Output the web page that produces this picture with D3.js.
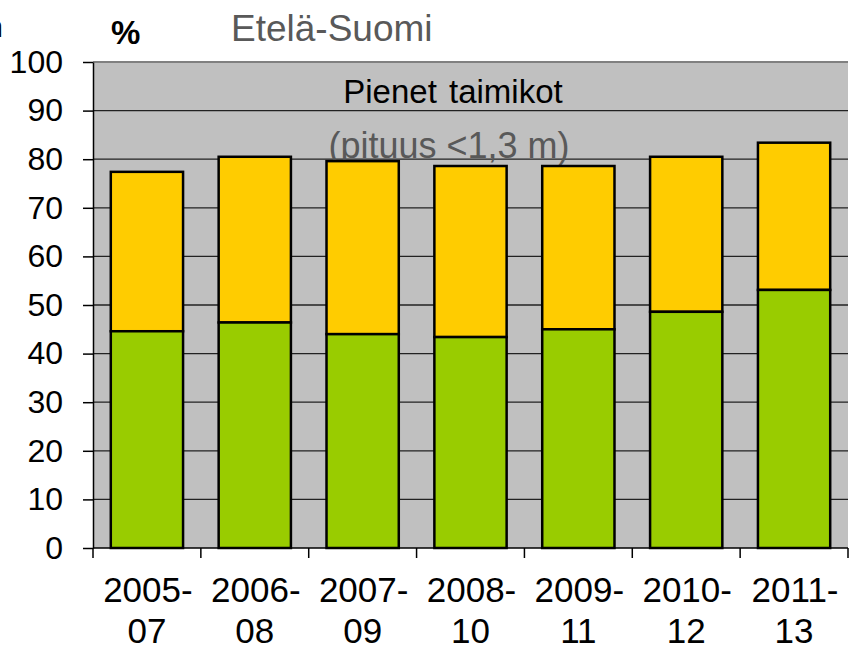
<!DOCTYPE html>
<html>
<head>
<meta charset="utf-8">
<script src="https://cdn.jsdelivr.net/npm/d3@7"></script>
<style>
  body { margin: 0; background: #fff; }
  svg { display: block; font-family: "Liberation Sans", Arial, sans-serif; }
</style>
</head>
<body>
<div id="chart"></div>
<script>
// chart data
var periods = ["2005-07", "2006-08", "2007-09", "2008-10", "2009-11", "2010-12", "2011-13"];
var greenValues = [44.6, 46.4, 44.0, 43.4, 45.0, 48.6, 53.1];
var totalValues = [77.4, 80.5, 79.6, 78.6, 78.6, 80.5, 83.4];
var yTicks = [0, 10, 20, 30, 40, 50, 60, 70, 80, 90, 100];

// chart parameters
var svgWidth = 857;
var svgHeight = 646;
var margin = { top: 62, right: 9, bottom: 98, left: 93 };
var width = svgWidth - margin.left - margin.right;
var height = svgHeight - margin.top - margin.bottom;

var svg = d3.select("#chart")
    .append("svg")
    .attr("width", svgWidth)
    .attr("height", svgHeight);

// titles above the plot
svg.append("text")
    .attr("x", 3).attr("y", 37)
    .attr("text-anchor", "end")
    .style("font-size", "30px")
    .text("n");
svg.append("text")
    .attr("x", 111).attr("y", 44)
    .style("font-size", "33px")
    .style("font-weight", "bold")
    .text("%");
svg.append("text")
    .attr("x", 231).attr("y", 41)
    .style("font-size", "37px")
    .style("fill", "#595959")
    .text("Etelä-Suomi");

var chart = svg.append("g")
    .attr("transform", `translate(${margin.left}, ${margin.top})`);

var xscale = d3.scaleBand()
    .domain(periods)
    .range([0, width])
    .paddingInner(0.33)
    .paddingOuter(0.165);

var yscale = d3.scaleLinear()
    .domain([0, 100])
    .range([height, 0]);

// plot background
chart.append("rect")
    .attr("width", width)
    .attr("height", height)
    .attr("fill", "#c0c0c0");

// gridlines
chart.selectAll(".grid")
    .data(yTicks.filter(d => d > 0 && d < 100))
    .enter()
    .append("line")
    .attr("x1", 0)
    .attr("x2", width)
    .attr("y1", d => yscale(d))
    .attr("y2", d => yscale(d))
    .attr("stroke", "#222")
    .attr("stroke-width", 1.3);

chart.append("line")
    .attr("x1", 0).attr("x2", width)
    .attr("y1", yscale(100)).attr("y2", yscale(100))
    .attr("stroke", "#808080")
    .attr("stroke-width", 2);

// labels inside plot
chart.append("text")
    .attr("x", 360).attr("y", 41)
    .attr("text-anchor", "middle")
    .style("font-size", "33px")
    .style("word-spacing", "3px")
    .text("Pienet taimikot");
chart.append("text")
    .attr("x", 356).attr("y", 96)
    .attr("text-anchor", "middle")
    .style("font-size", "36px")
    .style("fill", "#595959")
    .text("(pituus <1,3 m)");

// stacked bars
var bars = chart.selectAll(".bar")
    .data(periods)
    .enter()
    .append("g");

bars.append("rect")
    .attr("x", d => xscale(d))
    .attr("width", xscale.bandwidth())
    .attr("y", (d, i) => yscale(totalValues[i]))
    .attr("height", (d, i) => yscale(greenValues[i]) - yscale(totalValues[i]))
    .attr("fill", "#ffcc00")
    .attr("stroke", "#000")
    .attr("stroke-width", 2.5);

bars.append("rect")
    .attr("x", d => xscale(d))
    .attr("width", xscale.bandwidth())
    .attr("y", (d, i) => yscale(greenValues[i]))
    .attr("height", (d, i) => height - yscale(greenValues[i]))
    .attr("fill", "#99cc00")
    .attr("stroke", "#000")
    .attr("stroke-width", 2.5);

// axes
var leftAxis = d3.axisLeft(yscale)
    .tickValues(yTicks)
    .tickSize(10)
    .tickPadding(20)
    .tickSizeOuter(0);

var yAxis = chart.append("g").call(leftAxis);
yAxis.selectAll("text")
    .style("font-size", "32px")
    .style("font-family", "Liberation Sans, Arial, sans-serif")
    .attr("fill", "#000");
yAxis.selectAll("line, path").attr("stroke", "#000").attr("stroke-width", 1.5);

var step = xscale.step();
var xAxis = chart.append("g")
    .attr("transform", `translate(0, ${height})`);
xAxis.append("line")
    .attr("x1", 0).attr("x2", width)
    .attr("stroke", "#000").attr("stroke-width", 1.5);
xAxis.selectAll(".tick")
    .data(d3.range(periods.length + 1))
    .enter()
    .append("line")
    .attr("x1", d => d * step)
    .attr("x2", d => d * step)
    .attr("y1", 0).attr("y2", 10)
    .attr("stroke", "#000").attr("stroke-width", 1.5);

var xLabels = xAxis.selectAll(".lab")
    .data(periods)
    .enter()
    .append("text")
    .attr("text-anchor", "middle")
    .style("font-size", "35px")
    .attr("fill", "#000");
xLabels.append("tspan")
    .attr("x", d => xscale(d) + xscale.bandwidth() / 2 + 1)
    .attr("y", 54)
    .text(d => d.split("-")[0] + "-");
xLabels.append("tspan")
    .attr("x", d => xscale(d) + xscale.bandwidth() / 2)
    .attr("y", 95)
    .text(d => d.split("-")[1]);
</script>
</body>
</html>
